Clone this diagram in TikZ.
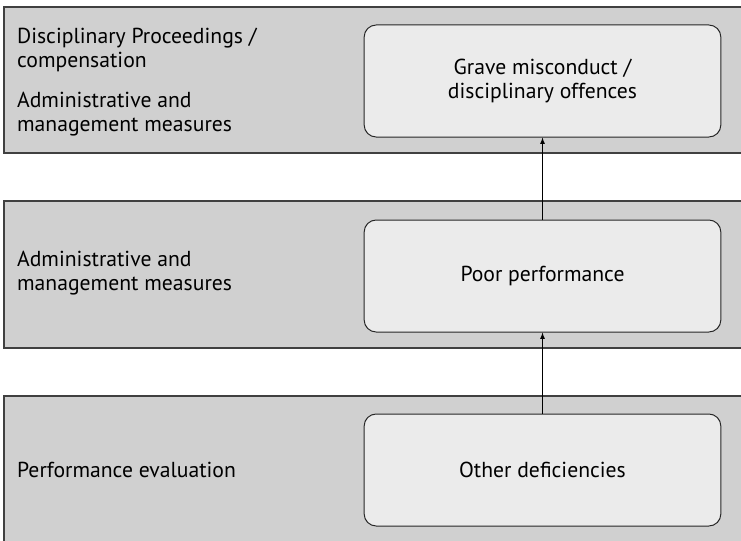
\documentclass[tikz,border=0pt]{standalone}
\usepackage{fontspec}
\setmainfont{PT Sans}
\usepackage{tikz}

\definecolor{bandgray}{HTML}{D0D0D0}
\definecolor{boxgray}{HTML}{EBEBEB}
\definecolor{edgegray}{HTML}{404040}

\begin{document}
\begin{tikzpicture}[x=0.3mm,y=-0.3mm,
    band/.style={draw=edgegray,fill=bandgray,line width=0.45mm},
    level/.style={draw=black!85,fill=boxgray,rounded corners=3.6mm,line width=0.3mm,
        minimum width=107mm,minimum height=33.6mm,align=center,
        font=\fontsize{18.5}{21}\selectfont},
    measure/.style={anchor=west,align=left,font=\fontsize{18.5}{21}\selectfont},
    up/.style={-latex,line width=0.3mm}]
    \useasboundingbox (0,0) rectangle (741,541);
    \clip (0,0) rectangle (741,541);

    \draw[band] (4,7) rectangle (750,153);
    \draw[band] (4,201) rectangle (750,348);
    \draw[band] (4,396) rectangle (750,560);

    \node[level] (grave) at (542.5,81) {Grave misconduct /\\disciplinary offences};
    \node[level] (poor) at (542.5,276) {Poor performance};
    \node[level] (other) at (542.5,470) {Other deficiencies};

    \node[measure] (disc) at (13,50) {Disciplinary Proceedings /\\compensation};
    \node[measure] (admtop) at (13,114) {Administrative and\\management measures};
    \node[measure] (admmid) at (13,273) {Administrative and\\management measures};
    \node[measure] (eval) at (13,470) {Performance evaluation};

    \draw[up] (other) -- (poor);
    \draw[up] (poor) -- (grave);
\end{tikzpicture}
\end{document}
